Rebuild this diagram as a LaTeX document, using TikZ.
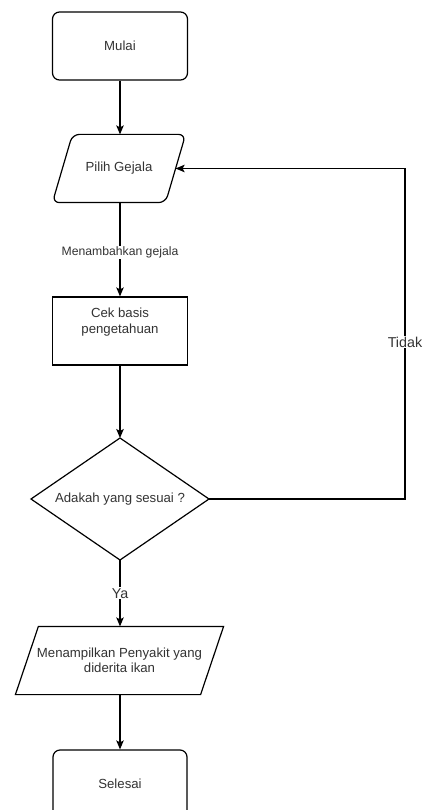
\documentclass[tikz,border=0pt]{standalone}
\usepackage{fontspec}
\setmainfont{Liberation Sans}
\usetikzlibrary{shapes.geometric,arrows.meta,calc}
\tikzset{
  mytext/.style={text=black!80, font=\fontsize{13.2}{15.5}\selectfont, align=center},
  startbox/.style={draw, rounded corners=7pt, minimum width=135pt, minimum height=68pt, inner sep=0pt, mytext},
  procbox/.style={draw, minimum width=135pt, minimum height=68pt, inner sep=0pt},
  holder/.style={minimum width=#1, minimum height=67pt, inner sep=0pt, mytext},
  decbox/.style={draw, diamond, minimum width=178pt, minimum height=122pt, inner sep=0pt, outer sep=0pt},
  flow/.style={-{Stealth[length=9pt,width=7.5pt,inset=2pt]}},
  edgelab/.style={fill=white, text=black!80, inner sep=1pt, font=\fontsize{12.2}{14}\selectfont},
  biglab/.style={fill=white, text=black!80, inner sep=1pt, font=\fontsize{14.3}{16}\selectfont},
}
\begin{document}
\begin{tikzpicture}[x=1pt,y=-1pt,line width=1.2pt]
\useasboundingbox (0,0) rectangle (426,810);
\clip (0,0) rectangle (426,810);
\fill[white] (0,0) rectangle (426,810);

% nodes
\node[startbox] (mulai) at (120,46) {Mulai};
\node[holder=132pt] (pilih) at (119,168.5) {Pilih Gejala};
\draw[rounded corners=7pt] ($(pilih.north west)+(20,0)$) -- (pilih.north east) -- ($(pilih.south east)+(-20,0)$) -- (pilih.south west) -- cycle;
\coordinate (pilihR) at ($(pilih.east)+(-10,0)$);

\node[procbox] (cek) at (120,331) {};
\node[mytext] (cektext) at ($(cek.center)+(0,-9)$) {Cek basis\\pengetahuan};

\node[decbox] (dec) at (120,499) {};
\node[mytext] (dectext) at (dec.center) {Adakah yang sesuai ?};

\node[holder=207pt] (tampil) at (119.5,660.5) {Menampilkan Penyakit yang\\diderita ikan};
\draw ($(tampil.north west)+(23,0)$) -- (tampil.north east) -- ($(tampil.south east)+(-23,0)$) -- (tampil.south west) -- cycle;

\node[startbox, minimum width=134pt] (selesai) at (120,784) {Selesai};

% connectors
\coordinate (cornerA) at (405,499);
\coordinate (cornerB) at (405,168.5);
\draw[flow] (mulai.south) -- (mulai.south |- pilih.north);
\draw[flow] (pilih.south -| mulai.south) -- node[edgelab, pos=0.53] {Menambahkan gejala} (cek.north);
\draw[flow] (cek.south) -- (dec.north);
\draw[flow] (dec.east) -- (cornerA) -- node[biglab, pos=0.475] {Tidak} (cornerB) -- (pilihR);
\draw[flow] (dec.south) -- node[biglab, pos=0.5] {Ya} (dec.south |- tampil.north);
\draw[flow] (tampil.south -| dec.south) -- (selesai.north);
\end{tikzpicture}
\end{document}
